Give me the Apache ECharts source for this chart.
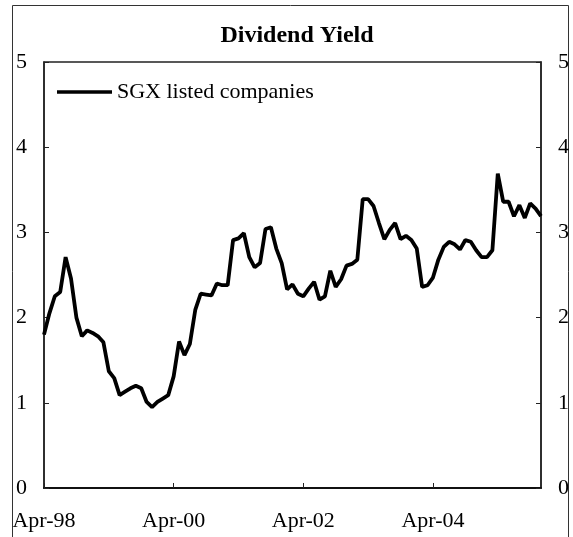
<!DOCTYPE html>
<html>
<head>
<meta charset="utf-8">
<script src="https://cdn.jsdelivr.net/npm/echarts@6/dist/echarts.min.js"></script>
<style>
html, body { margin: 0; padding: 0; background: #fff; }
#chart { width: 573px; height: 537px; }
</style>
</head>
<body>
<div id="chart"></div>
<script>
// monthly dividend yield, Apr-98 .. Dec-05
const seriesName = 'SGX listed companies';
const yieldValues = [
    1.80, 2.05, 2.25, 2.30, 2.71, 2.46, 2.00, 1.78, 1.85, 1.82,
    1.78, 1.71, 1.37, 1.29, 1.09, 1.13, 1.17, 1.20, 1.17, 1.01,
    0.95, 1.01, 1.05, 1.09, 1.31, 1.72, 1.56, 1.69, 2.09, 2.28,
    2.27, 2.26, 2.40, 2.38, 2.38, 2.91, 2.93, 2.99, 2.71, 2.59,
    2.64, 3.04, 3.06, 2.81, 2.64, 2.33, 2.39, 2.28, 2.25, 2.34,
    2.42, 2.21, 2.25, 2.55, 2.36, 2.45, 2.61, 2.63, 2.68, 3.39,
    3.39, 3.31, 3.11, 2.92, 3.03, 3.11, 2.92, 2.96, 2.91, 2.81,
    2.36, 2.38, 2.47, 2.68, 2.83, 2.89, 2.86, 2.80, 2.91, 2.89,
    2.79, 2.71, 2.71, 2.79, 3.69, 3.36, 3.36, 3.19, 3.32, 3.17,
    3.34, 3.28, 3.19
];
const monthNames = ['Jan', 'Feb', 'Mar', 'Apr', 'May', 'Jun', 'Jul', 'Aug', 'Sep', 'Oct', 'Nov', 'Dec'];
const yTicks = [0, 1, 2, 3, 4, 5];

// category labels like Apr-98
const months = yieldValues.map((v, i) => {
    const m = 3 + i;
    const yr = 1998 + Math.floor(m / 12);
    return monthNames[m % 12] + '-' + String(yr).slice(2);
});

const serif = 'Liberation Serif';
const labelStyle = { color: '#000', fontFamily: serif, fontSize: 22 };

const yAxisBase = {
    type: 'value',
    min: yTicks[0],
    max: yTicks[yTicks.length - 1],
    interval: 1,
    splitLine: { show: false },
    axisLine: { show: true, lineStyle: { color: '#222', width: 1.5 } },
    axisTick: { show: true, inside: true, length: 5, lineStyle: { color: '#222' } },
    axisLabel: Object.assign({ margin: 17 }, labelStyle)
};

const option = {
    animation: false,
    backgroundColor: '#fff',
    title: {
        text: 'Dividend Yield',
        left: 292,
        top: 19,
        textAlign: 'center',
        textStyle: { color: '#000', fontFamily: serif, fontSize: 24, fontWeight: 'bold' }
    },
    legend: {
        data: [seriesName],
        left: 52,
        top: 76,
        icon: 'rect',
        itemWidth: 55,
        itemHeight: 3.5,
        textStyle: labelStyle
    },
    grid: {
        left: 44,
        right: 32,
        top: 62,
        bottom: 49,
        show: true,
        borderColor: '#222',
        borderWidth: 1.5
    },
    graphic: [{
        type: 'rect',
        shape: { x: 12.5, y: 5.5, width: 556, height: 560 },
        style: { fill: null, stroke: '#333', lineWidth: 1 },
        silent: true
    }],
    xAxis: {
        type: 'category',
        boundaryGap: false,
        data: months,
        axisLine: { lineStyle: { color: '#111', width: 2 } },
        axisTick: { inside: true, length: 5, interval: 23, lineStyle: { color: '#222' } },
        axisLabel: Object.assign({ interval: 23, margin: 22 }, labelStyle),
        splitLine: { show: false }
    },
    yAxis: [
        Object.assign({ position: 'left' }, yAxisBase),
        Object.assign({ position: 'right' }, yAxisBase)
    ],
    series: [{
        name: seriesName,
        type: 'line',
        yAxisIndex: 0,
        data: yieldValues,
        symbol: 'none',
        lineStyle: { color: '#000', width: 3.8 },
        itemStyle: { color: '#000' }
    }]
};

const myChart = echarts.init(document.getElementById('chart'));
myChart.setOption(option);
window.addEventListener('resize', () => {
    myChart.resize();
});
</script>
</body>
</html>
